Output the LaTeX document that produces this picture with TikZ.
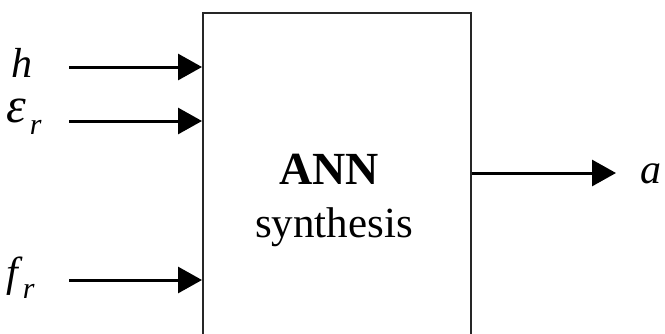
\documentclass[tikz,border=0pt]{standalone}
\usepackage{fontspec}
\setmainfont{Liberation Serif}
\usetikzlibrary{arrows.meta}
\tikzset{
  blockbox/.style={draw=black!85, line width=2pt, minimum width=268pt, minimum height=345pt, inner sep=0pt, anchor=north west},
  inarrow/.style={line width=3pt, -{Triangle[length=24pt,width=26pt]}},
  varlabel/.style={anchor=base west, inner sep=0pt, font=\fontsize{42}{42}\selectfont\itshape},
  boxtext/.style={inner sep=0pt, align=center}
}
\newcommand{\subr}{\raisebox{-12pt}{\fontsize{30}{30}\selectfont\itshape r}}
\begin{document}
\begin{tikzpicture}[x=1pt,y=-1pt]
\clip (0,0) rectangle (665,333);
\useasboundingbox (0,0) rectangle (665,333);
\node[blockbox] (box) at (202,12) {};
\node[anchor=base, inner sep=0pt, font=\fontsize{46}{46}\selectfont\bfseries] (ann) at (329,184) {ANN};
\node[anchor=base, inner sep=0pt, font=\fontsize{43}{43}\selectfont] (syn) at (334,237) {synthesis};
\node[varlabel] (h) at (11,77) {h};
\node[varlabel] (eps) at (6,122) {{\fontsize{50}{50}\selectfont ε}\kern4pt\subr};
\node[varlabel] (f) at (6,286) {f\kern5pt\subr};
\node[varlabel] (a) at (640,183) {a};
\coordinate (hin) at (69,67);
\coordinate (ein) at (69,121);
\coordinate (fin) at (69,280);
\coordinate (aout) at (616,173);
\draw[inarrow] (hin) -- (hin -| box.west);
\draw[inarrow] (ein) -- (ein -| box.west);
\draw[inarrow] (fin) -- (fin -| box.west);
\draw[inarrow] (aout -| box.east) -- (aout);
\end{tikzpicture}
\end{document}
